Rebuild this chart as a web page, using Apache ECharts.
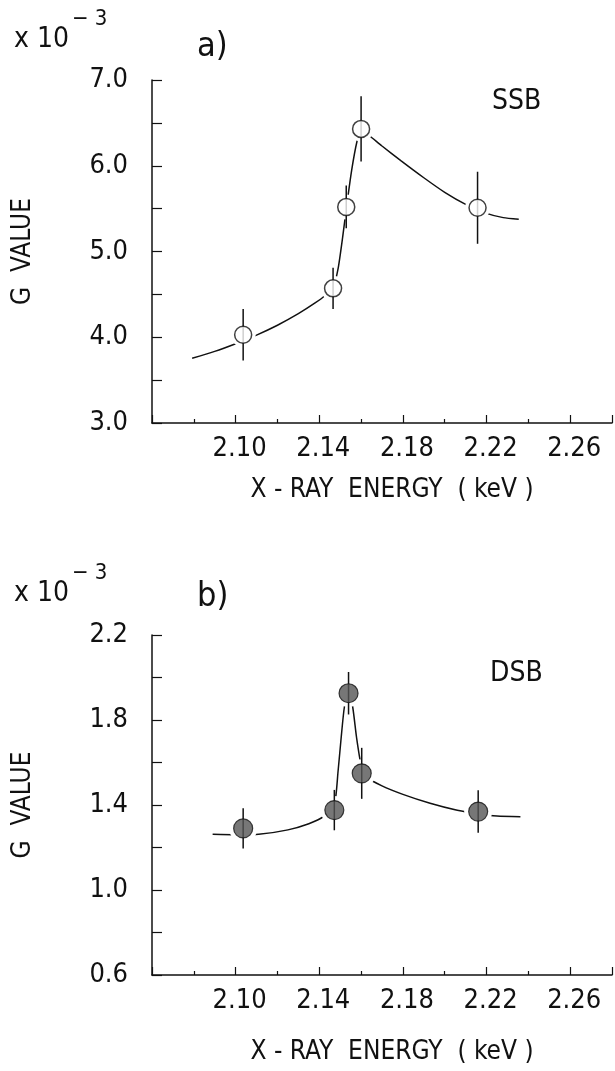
<!DOCTYPE html>
<html>
<head>
<meta charset="utf-8">
<script src="https://cdn.jsdelivr.net/npm/echarts@6/dist/echarts.min.js"></script>
<style>
  html, body { margin: 0; padding: 0; background: #fff; }
  #chart { width: 615px; height: 1071px; }
</style>
</head>
<body>
<div id="chart"></div>
<script>
// X-ray energy (keV) of each measurement
const energySSB = [2.1036, 2.1466, 2.1529, 2.1600, 2.2157];
const energyDSB = [2.1036, 2.1472, 2.1540, 2.1603, 2.2160];

// G values (x 10^-3) and their error bars
const gSSB = [4.03, 4.57, 5.52, 6.43, 5.51];
const errSSB = [0.30, 0.24, 0.25, 0.38, 0.42];
const gDSB = [1.290, 1.376, 1.926, 1.549, 1.369];
const errDSB = [0.095, 0.095, 0.100, 0.120, 0.100];

// Guide curves drawn through the points
const curveSSBx = [2.0792, 2.0900, 2.1000, 2.1100, 2.1200, 2.1300, 2.1380, 2.1430, 2.1466, 2.1490, 2.1512, 2.1532, 2.1555, 2.1580, 2.1600, 2.1640, 2.1700, 2.1790, 2.1900, 2.2000, 2.2100, 2.2200, 2.2280, 2.2354];
const curveSSBy = [3.755, 3.835, 3.925, 4.025, 4.140, 4.275, 4.400, 4.490, 4.580, 4.800, 5.170, 5.550, 5.950, 6.280, 6.420, 6.350, 6.230, 6.060, 5.860, 5.690, 5.550, 5.445, 5.395, 5.376];
const curveDSBx = [2.0890, 2.1000, 2.1110, 2.1250, 2.1350, 2.1420, 2.1472, 2.1490, 2.1505, 2.1520, 2.1540, 2.1560, 2.1578, 2.1600, 2.1630, 2.1700, 2.1800, 2.1930, 2.2060, 2.2160, 2.2250, 2.2362];
const curveDSBy = [1.262, 1.260, 1.262, 1.283, 1.312, 1.345, 1.400, 1.560, 1.720, 1.860, 1.930, 1.860, 1.720, 1.590, 1.530, 1.490, 1.450, 1.408, 1.375, 1.358, 1.348, 1.345];

// Axis tick labels
const xTickLabels = ['2.10', '2.14', '2.18', '2.22', '2.26'];
const yTickLabelsSSB = ['3.0', '4.0', '5.0', '6.0', '7.0'];
const yTickLabelsDSB = ['0.6', '1.0', '1.4', '1.8', '2.2'];

const FONT = '"Liberation Sans Narrow", "DejaVu Sans Condensed", "DejaVu Sans", sans-serif';
const INK = '#111';

const pairs = (xs, ys) => xs.map((x, i) => [x, ys[i]]);
const triples = (xs, ys, es) => xs.map((x, i) => [x, ys[i], es[i]]);

function xAxisFor(gridIndex, nameGap) {
  return {
    type: 'value', gridIndex, min: 2.06, max: 2.28, interval: 0.04,
    name: 'X - RAY  ENERGY  ( keV )', nameLocation: 'middle', nameGap,
    nameTextStyle: { fontFamily: FONT, fontSize: 26, color: INK, padding: [0, 0, 0, 20] },
    axisLine: { show: true, lineStyle: { color: INK, width: 1.5 } },
    axisTick: { show: true, inside: true, length: 8, lineStyle: { color: INK, width: 1.2 } },
    minorTick: { show: true, splitNumber: 2, length: 4, lineStyle: { color: INK, width: 1.2 } },
    splitLine: { show: false }, minorSplitLine: { show: false },
    axisLabel: {
      fontFamily: FONT, fontSize: 27, color: INK, margin: 12, padding: [0, 0, 0, 8],
      formatter: v => { const s = v.toFixed(2); return xTickLabels.includes(s) ? s : ''; }
    }
  };
}

function yAxisFor(gridIndex, min, max, interval, labels) {
  return {
    type: 'value', gridIndex, min, max, interval,
    name: 'G  VALUE', nameLocation: 'middle', nameRotate: 90, nameGap: 116,
    nameTextStyle: { fontFamily: FONT, fontSize: 26, color: INK },
    axisLine: { show: true, lineStyle: { color: INK, width: 1.5 } },
    axisTick: { show: true, inside: true, length: 10, lineStyle: { color: INK, width: 1.2 } },
    minorTick: { show: true, splitNumber: 2, length: 10, lineStyle: { color: INK, width: 1.2 } },
    splitLine: { show: false }, minorSplitLine: { show: false },
    axisLabel: {
      fontFamily: FONT, fontSize: 27, color: INK, margin: 24,
      formatter: v => { const s = v.toFixed(1); return labels.includes(s) ? s : ''; }
    }
  };
}

const errorBarSeries = (idx, data) => ({
  type: 'custom', xAxisIndex: idx, yAxisIndex: idx, z: 4,
  data, encode: { x: 0, y: 1 },
  renderItem: (params, api) => {
    const x = api.value(0), y = api.value(1), e = api.value(2);
    const lo = api.coord([x, y - e]), hi = api.coord([x, y + e]);
    return {
      type: 'line',
      shape: { x1: lo[0], y1: lo[1], x2: hi[0], y2: hi[1] },
      style: { stroke: INK, lineWidth: 1.5 }
    };
  }
});

const curveSeries = (idx, data) => ({
  type: 'line', xAxisIndex: idx, yAxisIndex: idx, z: 2,
  data, smooth: 0.2, symbol: 'none',
  lineStyle: { color: INK, width: 1.5 }
});

// white ring around each marker so the guide curve stops short of it
const haloSeries = (idx, data, size) => ({
  type: 'scatter', xAxisIndex: idx, yAxisIndex: idx, z: 3,
  data, symbol: 'circle', symbolSize: size, silent: true,
  itemStyle: { color: '#fff', opacity: 1 }
});

const chart = echarts.init(document.getElementById('chart'), null, { renderer: 'canvas' });

chart.setOption({
  backgroundColor: '#fff',
  animation: false,
  grid: [
    { left: 152, top: 80, width: 466, height: 343 },
    { left: 152, top: 635, width: 466, height: 340 }
  ],
  xAxis: [xAxisFor(0, 54), xAxisFor(1, 64)],
  yAxis: [
    yAxisFor(0, 3, 7, 1, yTickLabelsSSB),
    yAxisFor(1, 0.6, 2.2, 0.4, yTickLabelsDSB)
  ],
  series: [
    curveSeries(0, pairs(curveSSBx, curveSSBy)),
    haloSeries(0, pairs(energySSB, gSSB), 25),
    errorBarSeries(0, triples(energySSB, gSSB, errSSB)),
    {
      type: 'scatter', xAxisIndex: 0, yAxisIndex: 0, z: 5,
      data: pairs(energySSB, gSSB), symbol: 'circle', symbolSize: 17,
      itemStyle: { color: '#fff', borderColor: INK, borderWidth: 1.5 }
    },
    curveSeries(1, pairs(curveDSBx, curveDSBy)),
    haloSeries(1, pairs(energyDSB, gDSB), 28),
    errorBarSeries(1, triples(energyDSB, gDSB, errDSB)),
    {
      type: 'scatter', xAxisIndex: 1, yAxisIndex: 1, z: 5,
      data: pairs(energyDSB, gDSB), symbol: 'circle', symbolSize: 19,
      itemStyle: { color: '#555', borderColor: INK, borderWidth: 1.2 }
    }
  ],
  graphic: [
    { type: 'text', left: 14, top: 26, style: { text: 'x 10', font: '28px ' + FONT, fill: INK } },
    { type: 'text', left: 72, top: 8, style: { text: '\u2212 3', font: '22px ' + FONT, fill: INK } },
    { type: 'text', left: 197, top: 30, style: { text: 'a)', font: '34px ' + FONT, fill: INK } },
    { type: 'text', left: 492, top: 88, style: { text: 'SSB', font: '28px ' + FONT, fill: INK } },
    { type: 'text', left: 14, top: 580, style: { text: 'x 10', font: '28px ' + FONT, fill: INK } },
    { type: 'text', left: 72, top: 562, style: { text: '\u2212 3', font: '22px ' + FONT, fill: INK } },
    { type: 'text', left: 197, top: 580, style: { text: 'b)', font: '34px ' + FONT, fill: INK } },
    { type: 'text', left: 490, top: 660, style: { text: 'DSB', font: '28px ' + FONT, fill: INK } }
  ]
});
</script>
</body>
</html>
